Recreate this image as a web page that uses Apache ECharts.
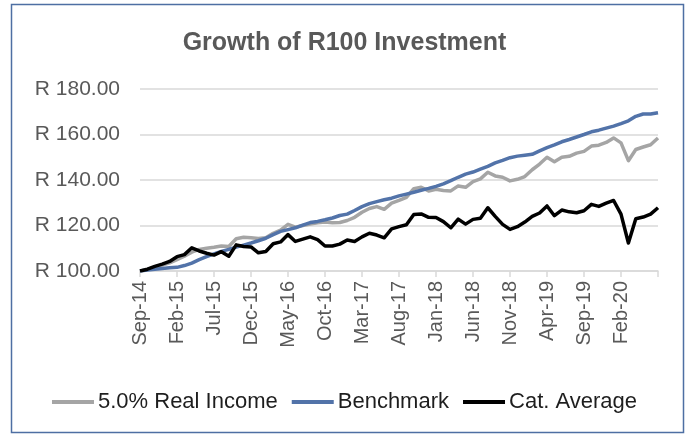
<!DOCTYPE html>
<html>
<head>
<meta charset="utf-8">
<script src="https://cdn.jsdelivr.net/npm/echarts@6/dist/echarts.min.js"></script>
<style>
  html, body { margin: 0; padding: 0; background: #fff; }
  #chart { width: 689px; height: 435px; }
</style>
</head>
<body>
<div id="chart"></div>
<script>
var months = [
  'Sep-14','Oct-14','Nov-14','Dec-14','Jan-15','Feb-15','Mar-15','Apr-15','May-15','Jun-15',
  'Jul-15','Aug-15','Sep-15','Oct-15','Nov-15','Dec-15','Jan-16','Feb-16','Mar-16','Apr-16',
  'May-16','Jun-16','Jul-16','Aug-16','Sep-16','Oct-16','Nov-16','Dec-16','Jan-17','Feb-17',
  'Mar-17','Apr-17','May-17','Jun-17','Jul-17','Aug-17','Sep-17','Oct-17','Nov-17','Dec-17',
  'Jan-18','Feb-18','Mar-18','Apr-18','May-18','Jun-18','Jul-18','Aug-18','Sep-18','Oct-18',
  'Nov-18','Dec-18','Jan-19','Feb-19','Mar-19','Apr-19','May-19','Jun-19','Jul-19','Aug-19',
  'Sep-19','Oct-19','Nov-19','Dec-19','Jan-20','Feb-20','Mar-20','Apr-20','May-20','Jun-20',
  'Jul-20'
];

var realIncome = [
  100, 100.6, 101.6, 102.6, 103.6, 105, 106.5, 108.3, 109.5, 110,
  110.4, 111, 110.8, 114.2, 114.8, 114.6, 114.3, 114.6, 116.6, 118,
  120.5, 119.3, 120, 120.6, 121.2, 121.5, 121.2, 121.3, 122.2, 123.6,
  125.8, 127.5, 128.3, 127.1, 129.8, 131, 132.4, 136.2, 136.8, 135.2,
  135.9, 135.4, 135.2, 137.4, 136.8, 139.3, 140.5, 143.4, 141.8, 141.2,
  139.6, 140.3, 141.5, 144.5, 147, 150, 148, 150, 150.4, 151.8,
  152.6, 154.9, 155.3, 156.5, 158.5, 156.3, 148.5, 153.4, 154.5, 155.5,
  158.5
];

var benchmark = [
  100, 100.4, 100.8, 101.1, 101.4, 101.6, 102.4, 103.5, 105, 106.3,
  107.5, 108.6, 109.5, 110.5, 111.4, 112.3, 113.3, 114.4, 116, 117.4,
  118.2, 119, 120.2, 121.3, 121.8, 122.5, 123.3, 124.4, 125, 126.6,
  128.3, 129.6, 130.5, 131.3, 132, 133, 133.8, 134.6, 135.5, 136.3,
  137.2, 138.3, 139.7, 141.2, 142.6, 143.5, 144.8, 146, 147.5, 148.6,
  149.8, 150.5, 150.9, 151.3, 152.8, 154.2, 155.4, 156.8, 157.8, 158.9,
  160, 161.2, 161.9, 162.8, 163.7, 164.8, 166, 168, 169, 169,
  169.6
];

var catAverage = [
  100, 100.8, 102, 103, 104.2, 106.3, 107.2, 110.2, 108.8, 107.8,
  107, 108.5, 106.5, 111.5, 110.8, 110.6, 108, 108.6, 112, 112.8,
  116, 113, 114, 115, 113.8, 111, 111, 111.8, 113.6, 113,
  115, 116.6, 115.8, 114.6, 118.5, 119.5, 120.3, 124.8, 125.1, 123.6,
  123.5, 121.7, 119, 122.8, 120.6, 122.7, 123.2, 127.8, 124, 120.5,
  118.3, 119.5, 121.5, 124, 125.5, 128.6, 124.3, 126.8, 126, 125.6,
  126.5, 129.3, 128.4, 129.8, 131, 125, 112.3, 123, 123.7, 125,
  127.8
];

var seriesNames = ['5.0% Real Income', 'Benchmark', 'Cat. Average'];
var seriesColors = ['#a5a5a5', '#5273a9', '#000000'];

var font = 'Liberation Sans';
var myChart = echarts.init(document.getElementById('chart'));

function lineSeries(idx, data) {
  return {
    name: seriesNames[idx],
    type: 'line',
    data: data,
    symbol: 'none',
    lineStyle: { color: seriesColors[idx], width: 3.5, join: 'round' },
    itemStyle: { color: seriesColors[idx] },
    z: 2 + idx
  };
}

var option = {
  animation: false,
  backgroundColor: '#fff',
  textStyle: { fontFamily: font },
  graphic: [{
    type: 'rect',
    shape: { x: 11.5, y: 4.5, width: 672, height: 428 },
    style: { fill: 'none', stroke: '#4e6fa3', lineWidth: 1.5 },
    silent: true
  }],
  title: {
    text: 'Growth of R100 Investment',
    left: 'center',
    top: 26,
    textStyle: { fontFamily: font, fontSize: 25, fontWeight: 'bold', color: '#595959' }
  },
  legend: {
    data: seriesNames,
    bottom: 17,
    left: 'center',
    icon: 'rect',
    itemWidth: 42,
    itemHeight: 4,
    itemGap: 14,
    textStyle: { fontFamily: font, fontSize: 22, color: '#1e1e1e', padding: [0, 0, 0, -1] }
  },
  grid: { left: 140, right: 31, top: 89, bottom: 164 },
  xAxis: {
    type: 'category',
    data: months,
    boundaryGap: false,
    axisLine: { lineStyle: { color: '#d9d9d9', width: 1.5 } },
    axisTick: {
      length: 6,
      lineStyle: { color: '#d9d9d9', width: 1.5 },
      interval: function (i) { return i % 5 === 0; }
    },
    axisLabel: {
      rotate: 90,
      margin: 10,
      fontSize: 20,
      color: '#595959',
      interval: function (i) { return i % 5 === 0 && i < 70; }
    },
    splitLine: { show: false }
  },
  yAxis: {
    type: 'value',
    min: 100,
    max: 180,
    interval: 20,
    axisLine: { show: false },
    axisTick: { show: false },
    axisLabel: {
      margin: 20,
      fontSize: 21,
      color: '#595959',
      formatter: function (v) { return 'R ' + v.toFixed(2); }
    },
    splitLine: { lineStyle: { color: '#d9d9d9', width: 1.5 } }
  },
  series: [
    lineSeries(0, realIncome),
    lineSeries(1, benchmark),
    lineSeries(2, catAverage)
  ]
};
myChart.setOption(option);
</script>
</body>
</html>
